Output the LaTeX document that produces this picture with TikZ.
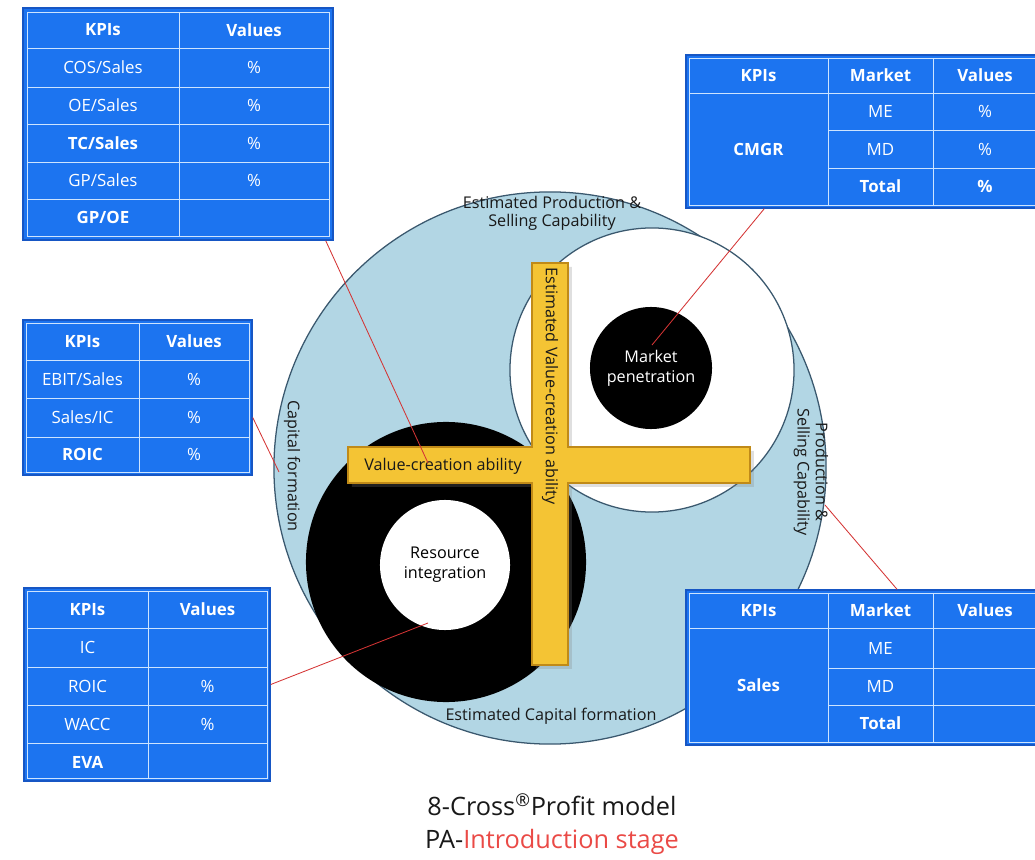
\documentclass[tikz,border=0pt]{standalone}
\usepackage{fontspec}
\setmainfont{Open Sans}
\usetikzlibrary{shadows}

\definecolor{kpiblue}{RGB}{28,116,240}
\definecolor{kpiedge}{RGB}{22,86,196}
\definecolor{kpigrid}{RGB}{205,228,255}
\definecolor{ringblue}{RGB}{178,214,228}
\definecolor{ringedge}{RGB}{58,88,110}
\definecolor{crossfill}{RGB}{244,196,52}
\definecolor{crossedge}{RGB}{192,138,24}
\definecolor{linkred}{RGB}{212,52,52}
\definecolor{stagered}{RGB}{234,74,70}

\tikzset{
  kpibox/.style={draw=kpiedge, fill=kpiblue, line width=1pt, inner sep=0pt},
  kpigridline/.style={draw=kpigrid, line width=0.6pt},
  kpitext/.style={text=white, inner sep=0pt, font=\fontsize{12}{14}\selectfont},
  kpihead/.style={text=white, inner sep=0pt, font=\fontsize{12}{14}\selectfont\bfseries},
  ringlabel/.style={font=\fontsize{11.5}{13}\selectfont, align=center, text=black!90},
  link/.style={draw=linkred, line width=0.6pt},
}

\begin{document}
\begin{tikzpicture}[x=0.025cm, y=-0.025cm]
  \useasboundingbox (0,0) rectangle (1035,860);

  % circles
  \node[circle, draw=ringedge, fill=ringblue, line width=0.9pt, minimum size=13.8cm, inner sep=0pt] (outer) at (550,468) {};
  \node[circle, draw=ringedge, fill=white, line width=0.9pt, minimum size=7.1cm, inner sep=0pt] (sell) at (652,370) {};
  \node[circle, fill=black, minimum size=3.05cm, inner sep=0pt, text=white, align=center,
        font=\fontsize{11.5}{14}\selectfont] (market) at (651,368) {Market\\penetration};
  \node[circle, fill=black, minimum size=7cm, inner sep=0pt] (capital) at (446,562) {};
  \node[circle, fill=white, minimum size=3.25cm, inner sep=0pt, align=center,
        font=\fontsize{11.5}{14}\selectfont] (resource) at (445,565) {Resource\\integration};

  % the cross
  \draw[fill=crossfill, draw=crossedge, line width=0.8pt, drop shadow={opacity=0.25}]
    (532,263) -- (568,263) -- (568,447) -- (750,447) -- (750,483) -- (568,483)
    -- (568,665) -- (532,665) -- (532,483) -- (348,483) -- (348,447) -- (532,447) -- cycle;
  \node[ringlabel] (vca) at (443,466) {Value-creation ability};
  \node[ringlabel, rotate=-90] (evca) at (550,386) {Estimated Value-creation ability};

  % ring labels
  \node[ringlabel] (epsc) at (552,213) {Estimated Production \&\\Selling Capability};
  \node[ringlabel, rotate=-90] (cf) at (292,466) {Capital formation};
  \node[ringlabel, rotate=-90] (psc) at (811,472) {Production \&\\Selling Capability};
  \node[ringlabel] (ecf) at (551,716) {Estimated Capital formation};

  % link ends
  \coordinate (ca) at (428,463);
  \coordinate (cb) at (652,345);
  \coordinate (cc) at (279,472);
  \coordinate (cd) at (428,623);
  \coordinate (ce) at (825,505);

  % table A
  \node[kpibox, minimum width=7.75cm, minimum height=5.8cm] (kpiA) at (178,124) {};
  \draw[kpigridline] (27,12) rectangle (329,236);
  \draw[kpigridline] (179,12) -- (179,236);
  \foreach \y in {48,87,124,162,199}
    \draw[kpigridline] (27,\y) -- (329,\y);
  \node[kpihead] (a1) at (103,30) {KPIs};
  \node[kpihead] (a2) at (254,30) {Values};
  \node[kpitext] (a3) at (103,67.5) {COS/Sales};
  \node[kpitext] (a4) at (254,67.5) {\%};
  \node[kpitext] (a5) at (103,105.5) {OE/Sales};
  \node[kpitext] (a6) at (254,105.5) {\%};
  \node[kpihead] (a7) at (103,143) {TC/Sales};
  \node[kpitext] (a8) at (254,143) {\%};
  \node[kpitext] (a9) at (103,180.5) {GP/Sales};
  \node[kpitext] (a10) at (254,180.5) {\%};
  \node[kpihead] (a11) at (103,217.5) {GP/OE};

  % table B
  \node[kpibox, minimum width=8.85cm, minimum height=3.825cm] (kpiB) at (863,131.5) {};
  \draw[kpigridline] (689,58) rectangle (1037,205);
  \draw[kpigridline] (689,93) -- (1037,93);
  \draw[kpigridline] (828,58) -- (828,205);
  \draw[kpigridline] (933,58) -- (933,205);
  \foreach \y in {130,168}
    \draw[kpigridline] (828,\y) -- (1037,\y);
  \node[kpihead] (b1) at (758.5,75.5) {KPIs};
  \node[kpihead] (b2) at (880.5,75.5) {Market};
  \node[kpihead] (b3) at (985,75.5) {Values};
  \node[kpihead] (b4) at (758.5,149) {CMGR};
  \node[kpitext] (b5) at (880.5,111.5) {ME};
  \node[kpitext] (b6) at (985,111.5) {\%};
  \node[kpitext] (b7) at (880.5,149) {MD};
  \node[kpitext] (b8) at (985,149) {\%};
  \node[kpihead] (b9) at (880.5,186.5) {Total};
  \node[kpihead] (b10) at (985,186.5) {\%};

  % table C
  \node[kpibox, minimum width=5.725cm, minimum height=3.875cm] (kpiC) at (137.5,397.5) {};
  \draw[kpigridline] (26,323) rectangle (249,472);
  \draw[kpigridline] (139,323) -- (139,472);
  \foreach \y in {360,398,437}
    \draw[kpigridline] (26,\y) -- (249,\y);
  \node[kpihead] (c1) at (82.5,341.5) {KPIs};
  \node[kpihead] (c2) at (194,341.5) {Values};
  \node[kpitext] (c3) at (82.5,379) {EBIT/Sales};
  \node[kpitext] (c4) at (194,379) {\%};
  \node[kpitext] (c5) at (82.5,417.5) {Sales/IC};
  \node[kpitext] (c6) at (194,417.5) {\%};
  \node[kpihead] (c7) at (82.5,454.5) {ROIC};
  \node[kpitext] (c8) at (194,454.5) {\%};

  % table D
  \node[kpibox, minimum width=6.15cm, minimum height=4.825cm] (kpiD) at (147,684.5) {};
  \draw[kpigridline] (27,591) rectangle (267,778);
  \draw[kpigridline] (148,591) -- (148,778);
  \foreach \y in {628,667,705,743}
    \draw[kpigridline] (27,\y) -- (267,\y);
  \node[kpihead] (d1) at (87.5,609.5) {KPIs};
  \node[kpihead] (d2) at (207.5,609.5) {Values};
  \node[kpitext] (d3) at (87.5,647.5) {IC};
  \node[kpitext] (d4) at (87.5,686) {ROIC};
  \node[kpitext] (d5) at (207.5,686) {\%};
  \node[kpitext] (d6) at (87.5,724) {WACC};
  \node[kpitext] (d7) at (207.5,724) {\%};
  \node[kpihead] (d8) at (87.5,762) {EVA};

  % table E
  \node[kpibox, minimum width=8.85cm, minimum height=3.875cm] (kpiE) at (863,667.5) {};
  \draw[kpigridline] (689,593) rectangle (1037,742);
  \draw[kpigridline] (689,628) -- (1037,628);
  \draw[kpigridline] (828,593) -- (828,742);
  \draw[kpigridline] (933,593) -- (933,742);
  \foreach \y in {668,705}
    \draw[kpigridline] (828,\y) -- (1037,\y);
  \node[kpihead] (e1) at (758.5,610.5) {KPIs};
  \node[kpihead] (e2) at (880.5,610.5) {Market};
  \node[kpihead] (e3) at (985,610.5) {Values};
  \node[kpihead] (e4) at (758.5,685) {Sales};
  \node[kpitext] (e5) at (880.5,648) {ME};
  \node[kpitext] (e6) at (880.5,686.5) {MD};
  \node[kpihead] (e7) at (880.5,723.5) {Total};

  % links
  \draw[link] ([xshift=-0.2cm]kpiA.south east) -- (ca);
  \draw[link] ([xshift=1.975cm]kpiB.south west) -- (cb);
  \draw[link] ([yshift=-0.5cm]kpiC.east) -- (cc);
  \draw[link] (kpiD.east) -- (cd);
  \draw[link] ([xshift=0.85cm]kpiE.north) -- (ce);

  % caption
  \node[font=\fontsize{18}{21}\selectfont, text=black!90] (title) at (552,805)
    {8-Cross\textsuperscript{®}Profit model};
  \node[font=\fontsize{18}{21}\selectfont, text=black!90] (stage) at (552,842)
    {PA-\textcolor{stagered}{Introduction stage}};
\end{tikzpicture}
\end{document}
